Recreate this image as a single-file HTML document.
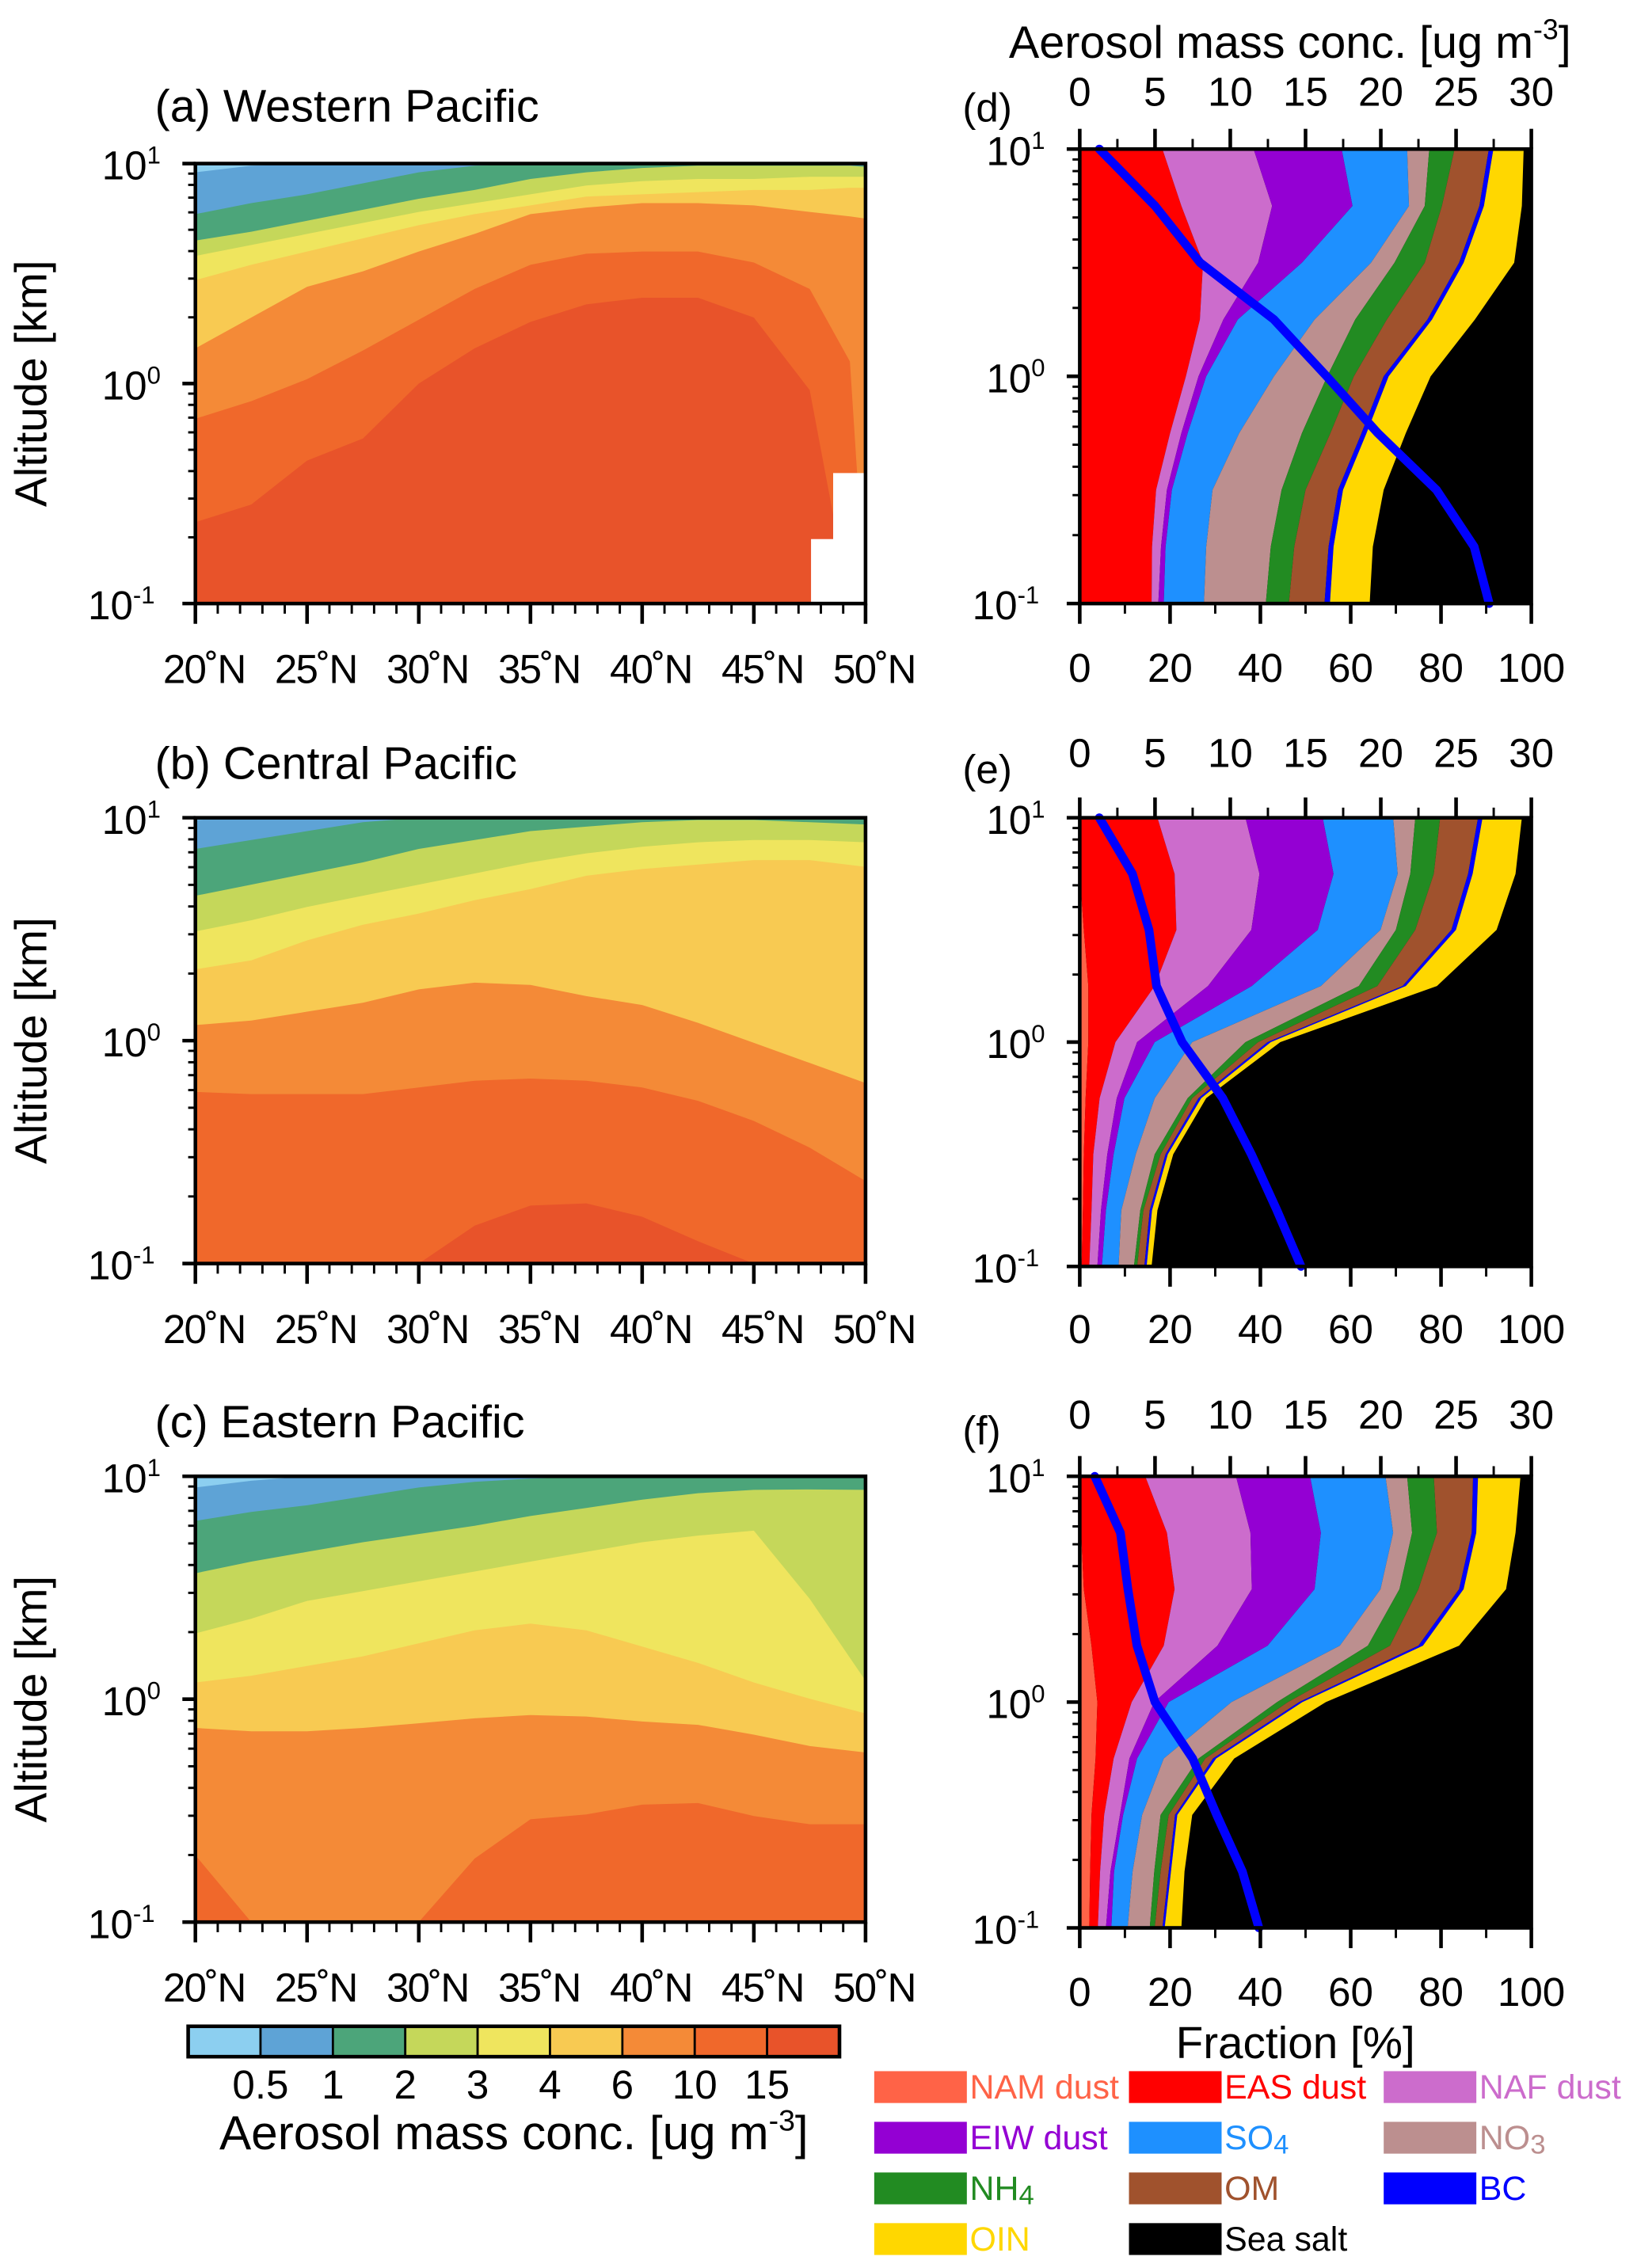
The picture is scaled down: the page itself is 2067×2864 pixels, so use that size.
<!DOCTYPE html>
<html><head><meta charset="utf-8"><title>Aerosol vertical profiles</title>
<style>
html,body{margin:0;padding:0;background:#fff;}
svg{display:block;}
text{font-family:"Liberation Sans",Arial,sans-serif;fill:#000;}
</style></head>
<body>
<svg id="fig" xmlns="http://www.w3.org/2000/svg" width="2067" height="2864" viewBox="0 0 1131 1567" preserveAspectRatio="none">
<g id="layer"></g>
</svg>
<script>
// ---------- contour data (log10 altitude of level boundaries vs latitude) ----------
const latsA = [20,22.5,25,27.5,30,32.5,35,37.5,40,42.5,45,47.5,49.3,50];
const lats13 = [20,22.5,25,27.5,30,32.5,35,37.5,40,42.5,45,47.5,50];
const levelLabels = ["0.5","1","2","3","4","6","10","15"];
const contourColors = ["#8ccff0","#5ea3d6","#4ca57a","#c5d75a","#efe55e","#f8ca52","#f48a37","#f0682b","#e8532a"];

const aL05 = [0.96,0.99,1,1,1,1,1,1,1,1,1,1,1,1];
const aL1  = [0.77,0.82,0.86,0.91,0.96,0.99,1,1,1,1,1,0.995,0.99,0.99];
const aL2  = [0.65,0.69,0.74,0.79,0.84,0.88,0.93,0.96,0.98,0.99,0.99,0.99,0.99,0.985];
const aL3  = [0.58,0.63,0.68,0.73,0.78,0.82,0.86,0.90,0.92,0.93,0.93,0.94,0.94,0.94];
const aL4  = [0.47,0.54,0.60,0.66,0.72,0.77,0.81,0.85,0.86,0.87,0.88,0.88,0.89,0.89];
const aL6  = [0.16,0.30,0.44,0.51,0.60,0.68,0.77,0.80,0.82,0.82,0.81,0.78,0.76,0.75];
const aL10 = [-0.16,-0.08,0.02,0.15,0.29,0.43,0.54,0.59,0.60,0.60,0.55,0.43,0.10,-1];
const aL15 = [-0.63,-0.55,-0.35,-0.25,0.00,0.16,0.28,0.36,0.39,0.39,0.30,-0.03,-1,-1];

const bL05 = [0.99,1,1,1,1,1,1,1,1,1,1,1,1];
const bL1  = [0.86,0.90,0.94,0.98,1,1,1,1,1,1,1,1,0.995];
const bL2  = [0.65,0.70,0.75,0.80,0.86,0.90,0.94,0.96,0.98,0.99,0.99,0.98,0.97];
const bL3  = [0.49,0.54,0.60,0.65,0.70,0.75,0.80,0.84,0.87,0.89,0.90,0.90,0.89];
const bL4  = [0.32,0.36,0.45,0.52,0.57,0.63,0.68,0.74,0.77,0.79,0.81,0.81,0.78];
const bL6  = [0.07,0.09,0.13,0.17,0.23,0.26,0.25,0.20,0.16,0.08,-0.01,-0.10,-0.19];
const bL10 = [-0.23,-0.24,-0.24,-0.24,-0.21,-0.18,-0.17,-0.18,-0.21,-0.27,-0.36,-0.48,-0.63];
const bL15 = [-1,-1,-1,-1,-1,-0.83,-0.74,-0.73,-0.79,-0.90,-1,-1,-1];

const cL05 = [0.95,0.98,1,1,1,1,1,1,1,1,1,1,1];
const cL1  = [0.80,0.84,0.87,0.91,0.95,0.975,0.99,0.997,1,1,1,1,1];
const cL2  = [0.565,0.617,0.661,0.704,0.741,0.778,0.822,0.858,0.895,0.924,0.939,0.941,0.939];
const cL3  = [0.295,0.361,0.441,0.485,0.529,0.573,0.617,0.661,0.704,0.734,0.756,0.45,0.083];
const cL4  = [0.075,0.105,0.149,0.192,0.251,0.309,0.339,0.309,0.236,0.163,0.075,0.002,-0.064];
const cL6  = [-0.129,-0.144,-0.144,-0.129,-0.108,-0.086,-0.071,-0.078,-0.100,-0.115,-0.159,-0.210,-0.239];
const cL10 = [-0.70,-1,-1,-1,-1,-0.715,-0.539,-0.517,-0.473,-0.466,-0.524,-0.561,-0.561];
const cL15 = [-1,-1,-1,-1,-1,-1,-1,-1,-1,-1,-1,-1,-1];

// ---------- composition data (cumulative fraction %, at log10 altitude levels) ----------
const profLevels = [1,0.75,0.5,0.25,0,-0.25,-0.5,-0.75,-1];
const speciesNames = ["NAM dust","EAS dust","NAF dust","EIW dust","SO4","NO3","NH4","OM","BC","OIN"];
const speciesColors = ["#ff6347","#ff0000","#cc6ccc","#9400d3","#1e90ff","#bc8f8f","#228b22","#a0522d","#0000ff","#ffd700"];

const dNAM = [0,0,0,0,0,0,0,0,0];
const dEAS = [18.3,22.5,27.3,26.6,23.5,20,16.9,16,15.9];
const dNAF = [38.5,42.6,39.5,31.8,26.3,22.5,19.3,18,17.4];
const dEIW = [58,60.4,49.2,35,28,23.9,20.4,19,18.6];
const dSO4 = [72.5,72.9,64.5,52,43,35.3,29.4,28,27.5];
const dNO3 = [77.4,76.4,69.7,61,54.8,49.2,44.7,42.3,41.2];
const dNH4 = [83,80.2,76.4,68,60.7,55.5,50,47.5,46.3];
const dOM  = [90.6,88.5,84,77,67.3,62.4,57.2,55.1,54.2];
const dBC  = [91.6,89.5,85,78,68.4,63.5,58.3,56.2,55.4];
const dOIN = [98.3,97.9,96.2,87.5,77.7,72.2,67.3,64.9,64.2];
const dConc = [1.3,5.0,8.0,12.9,16.4,19.8,23.7,26.2,27.2];

const eNAM = [0,0,0.9,1.9,1.9,1.3,0.9,0.7,0.4];
const eEAS = [17.2,21,21.4,16.6,7.9,4.4,3,2.6,2.1];
const eNAF = [36.7,39.8,38,28.4,12.7,8.2,6.1,4.7,3.9];
const eEIW = [53.8,56.2,52.7,38.1,16.6,9.9,7.5,5.8,4.9];
const eSO4 = [69.4,70.4,66.6,53.4,24.9,16.6,12.4,9.2,8.6];
const eNO3 = [74.3,73.2,70,61.8,36.7,23.9,16.6,13.4,12];
const eNH4 = [79.8,78.4,74.3,65.9,39.5,24.9,17.9,14.1,12.7];
const eOM  = [88.2,86,82.3,71.5,41.6,26.3,19,15.5,14.3];
const eBC  = [89.2,87,83.3,72.2,42.3,26.9,19.5,16,14.8];
const eOIN = [97.9,96.5,92.3,79.1,44.4,28,20.7,17.2,15.9];
const eConc = [1.3,3.5,4.6,5.1,6.8,9.5,11.4,13.1,14.7];

const fNAM = [0,0.3,0.9,2.6,3.9,3.5,2.6,2.3,2.1];
const fEAS = [14.5,19.3,21,18.6,11.5,7.5,5.4,4.5,4];
const fNAF = [34.6,37.8,38.1,30.5,16.5,11,8.9,6.8,5.8];
const fEIW = [51,53.4,52,41.6,19.7,12.7,9.6,7.6,7];
const fSO4 = [67.7,69.4,66.6,57.6,33.6,18.6,13.8,11.7,10.6];
const fNO3 = [72.5,73.6,70.8,63.8,43.7,26.3,17.9,16.5,15.5];
const fNH4 = [78.4,79.1,75,68.7,46.1,27.8,19.7,17.9,16.6];
const fOM  = [87.1,86.8,84,75,48.6,29.5,21.1,19.7,18.3];
const fBC  = [88.2,87.8,85,76,49.3,30.2,21.6,20.2,18.8];
const fOIN = [97.6,96.5,94.4,84,54.5,34.2,24.9,23.2,22.5];
const fConc = [1.0,2.7,3.2,3.8,5.0,7.5,9.1,10.8,11.9];

const fracTicks = [0,20,40,60,80,100];
const concTicks = [0,5,10,15,20,25,30];
const latTicks = [20,25,30,35,40,45,50];

// ---------- drawing ----------
const NS = "http://www.w3.org/2000/svg";
const layer = document.getElementById("layer");
function mk(tag, attrs, parent) {
  const el = document.createElementNS(NS, tag);
  for (const k in attrs) el.setAttribute(k, attrs[k]);
  (parent || layer).appendChild(el);
  return el;
}
function txt(str, x, y, size, anchor, parent) {
  const t = mk("text", {x:x, y:y, "font-size":size, "text-anchor":anchor||"start"}, parent);
  t.textContent = str;
  return t;
}
function pow10(x, y, exp, parent) {
  const t = mk("text", {x:x, y:y, "font-size":28, "text-anchor":"end"}, parent);
  
  
  const s1 = document.createElementNS(NS, "tspan"); s1.textContent = "10"; t.appendChild(s1);
  const s2 = document.createElementNS(NS, "tspan"); s2.setAttribute("dy", -11); s2.setAttribute("font-size", 17); s2.textContent = exp; t.appendChild(s2);
}

function logAxis(g, box) {
  const yOf = v => box.y + (1 - v) / 2 * box.h;
  [1,0,-1].forEach(d => {
    mk("line", {x1:box.x-9, x2:box.x, y1:yOf(d), y2:yOf(d), stroke:"#000","stroke-width":2.5}, g);
  });
  [-1,0].forEach(d => {
    for (let m = 2; m <= 9; m++) {
      const v = d + Math.log10(m);
      mk("line", {x1:box.x-5, x2:box.x, y1:yOf(v), y2:yOf(v), stroke:"#000","stroke-width":1.6}, g);
    }
  });
  pow10(box.x - 24, yOf(1) + 11, "1", g);
  pow10(box.x - 24, yOf(0) + 11, "0", g);
  pow10(box.x - 28, yOf(-1) + 11, "-1", g);
}

function contourPanel(name, box, lats, bounds) {
  const g = mk("g", {});
  
  
  const xOf = lat => box.x + (lat - 20) / 30 * box.w;
  const yOf = v => box.y + (1 - v) / 2 * box.h;
  const bg = mk("rect", {x:box.x, y:box.y, width:box.w, height:box.h, fill:contourColors[0]}, g);
  
  
  bounds.forEach((arr, k) => {
    let pts = arr.map((v, i) => xOf(lats[i]).toFixed(2) + "," + yOf(v).toFixed(2));
    pts.push(xOf(50) + "," + yOf(-1));
    pts.push(xOf(20) + "," + yOf(-1));
    const p = mk("polygon", {points:pts.join(" "), fill:contourColors[k+1]}, g);
    
    
  });
  return {g, xOf, yOf};
}

function frameLeft(g, box, xOf) {
  mk("rect", {x:box.x, y:box.y, width:box.w, height:box.h, fill:"none", stroke:"#000","stroke-width":2.5}, g);
  logAxis(g, box);
  for (let lat = 20; lat <= 50; lat++) {
    const major = lat % 5 === 0;
    mk("line", {x1:xOf(lat), x2:xOf(lat), y1:box.y+box.h, y2:box.y+box.h+(major?14:7), stroke:"#000","stroke-width":major?2.5:1.6}, g);
  }
  latTicks.forEach(lat => {
    const t = mk("text", {x:xOf(lat)+6, y:box.y+box.h+55, "font-size":28, "text-anchor":"middle", "letter-spacing":-1}, g);
    
    
    t.textContent = lat + "\u02DAN";
  });
  const yl = mk("text", {x:0, y:0, "font-size":31, "text-anchor":"middle", transform:"translate(32," + (box.y+box.h/2) + ") rotate(-90)"}, g);
  
  
  yl.textContent = "Altitude [km]";
}

const boxA = {x:135, y:113, w:463, h:304};
const boxB = {x:135, y:565, w:463, h:308};
const boxC = {x:135, y:1020, w:463, h:308};

const pa = contourPanel("panel-a-western-pacific", boxA, latsA, [aL05,aL1,aL2,aL3,aL4,aL6,aL10,aL15]);
const miss = mk("polygon", {points:[
  [pa.xOf(48.55),pa.yOf(-0.407)],[pa.xOf(50),pa.yOf(-0.407)],[pa.xOf(50),pa.yOf(-1)],
  [pa.xOf(47.56),pa.yOf(-1)],[pa.xOf(47.56),pa.yOf(-0.707)],[pa.xOf(48.55),pa.yOf(-0.707)]
].map(p=>p.join(",")).join(" "), fill:"#fff"}, pa.g);


frameLeft(pa.g, boxA, pa.xOf);

const pb = contourPanel("panel-b-central-pacific", boxB, lats13, [bL05,bL1,bL2,bL3,bL4,bL6,bL10,bL15]);
frameLeft(pb.g, boxB, pb.xOf);
const pc = contourPanel("panel-c-eastern-pacific", boxC, lats13, [cL05,cL1,cL2,cL3,cL4,cL6,cL10,cL15]);
frameLeft(pc.g, boxC, pc.xOf);

[["(a) Western Pacific",84,"panel-a-title"],["(b) Central Pacific",538,"panel-b-title"],["(c) Eastern Pacific",993,"panel-c-title"]].forEach(a => {
  const t = txt(a[0], 107, a[1], 31.5, "start");
  
  
});

// ---------- composition panels ----------
function profPanel(name, box, cum, conc, label, topY, botY) {
  const g = mk("g", {});
  
  
  const xOf = f => box.x + f / 100 * box.w;
  const xc = c => box.x + c / 30 * box.w;
  const yOf = v => box.y + (1 - v) / 2 * box.h;
  const ss = mk("rect", {x:box.x, y:box.y, width:box.w, height:box.h, fill:"#000"}, g);
  
  
  let prev = profLevels.map(() => 0);
  cum.forEach((arr, k) => {
    const right = arr.map((f, i) => xOf(f).toFixed(2) + "," + yOf(profLevels[i]).toFixed(2));
    const left = prev.map((f, i) => xOf(f).toFixed(2) + "," + yOf(profLevels[i]).toFixed(2)).reverse();
    const p = mk("polygon", {points:right.concat(left).join(" "), fill:speciesColors[k]}, g);
    
    
    prev = arr;
  });
  const line = mk("polyline", {points:conc.map((c,i)=>xc(c).toFixed(2)+","+yOf(profLevels[i]).toFixed(2)).join(" "),
    fill:"none", stroke:"#0000ff", "stroke-width":6, "stroke-linejoin":"round", "stroke-linecap":"round"}, g);
  
  
  mk("rect", {x:box.x, y:box.y, width:box.w, height:box.h, fill:"none", stroke:"#000","stroke-width":2.5}, g);
  logAxis(g, box);
  for (let f = 0; f <= 100; f += 10) {
    const major = f % 20 === 0;
    mk("line", {x1:xOf(f), x2:xOf(f), y1:box.y+box.h, y2:box.y+box.h+(major?14:7), stroke:"#000","stroke-width":major?2.5:1.6}, g);
  }
  for (let c = 0; c <= 30; c += 2.5) {
    const major = c % 5 === 0;
    mk("line", {x1:xc(c), x2:xc(c), y1:box.y, y2:box.y-(major?14:7), stroke:"#000","stroke-width":major?2.5:1.6}, g);
  }
  fracTicks.forEach(f => {
    const t = txt(String(f), xOf(f), botY, 28, "middle", g);
    
    
  });
  concTicks.forEach(c => {
    const t = txt(String(c), xc(c), topY, 28, "middle", g);
    
    
  });
  const l = txt(label, 665, topY + 11, 28, "start", g);
  
  
}
const boxD = {x:746, y:103, w:312, h:314};
const boxE = {x:746, y:565, w:312, h:310};
const boxF = {x:746, y:1020, w:312, h:312};
profPanel("panel-d-composition", boxD, [dNAM,dEAS,dNAF,dEIW,dSO4,dNO3,dNH4,dOM,dBC,dOIN], dConc, "(d)", 73, 471);
profPanel("panel-e-composition", boxE, [eNAM,eEAS,eNAF,eEIW,eSO4,eNO3,eNH4,eOM,eBC,eOIN], eConc, "(e)", 530, 928);
profPanel("panel-f-composition", boxF, [fNAM,fEAS,fNAF,fEIW,fSO4,fNO3,fNH4,fOM,fBC,fOIN], fConc, "(f)", 987, 1386);

function unitTitle(x, y, size, anchor, name) {
  const t = mk("text", {x:x, y:y, "font-size":size, "text-anchor":anchor});
  
  
  t.appendChild(document.createTextNode("Aerosol mass conc. [ug m"));
  const s = document.createElementNS(NS,"tspan"); s.setAttribute("dy",-13); s.setAttribute("font-size",size*0.62); s.textContent="-3"; t.appendChild(s);
  const s2 = document.createElementNS(NS,"tspan"); s2.setAttribute("dy",13); s2.textContent="]"; t.appendChild(s2);
  return t;
}
unitTitle(697, 40, 31.5, "start", "top-axis-title");
(function(){
  const f = txt("Fraction [%]", 895, 1422, 31, "middle");
  
  
})();

// ---------- colorbar ----------
(function(){
  const g = mk("g", {});
  
  
  const x0 = 130, y0 = 1400, cw = 50, ch = 21;
  contourColors.forEach((c, i) => {
    const r = mk("rect", {x:x0+i*cw, y:y0, width:cw, height:ch, fill:c, stroke:"#000", "stroke-width":1.5}, g);
    
    
  });
  mk("rect", {x:x0, y:y0, width:cw*9, height:ch, fill:"none", stroke:"#000", "stroke-width":2.5}, g);
  levelLabels.forEach((l, i) => {
    const t = txt(l, x0+(i+1)*cw, 1450, 28, "middle", g);
    
    
  });
  const t = unitTitle(355, 1485, 33, "middle", "colorbar-title");
  g.appendChild(t);
})();

// ---------- legend ----------
(function(){
  const g = mk("g", {});
  
  
  const names = speciesNames.concat(["Sea salt"]);
  const cols = speciesColors.concat(["#000000"]);
  const colX = [604, 780, 956], rowY = [1431, 1466, 1501, 1536];
  names.forEach((n, i) => {
    const cx = colX[i % 3], ry = rowY[Math.floor(i / 3)];
    const r = mk("rect", {x:cx, y:ry, width:64, height:22, fill:cols[i]}, g);
    
    
    const t = mk("text", {x:cx+66, y:ry+19, "font-size":23.5}, g);
    
    
    t.style.fill = n === "Sea salt" ? "#000" : cols[i];
    const m = n.match(/^(SO|NO|NH)(\d)$/);
    if (m) {
      t.appendChild(document.createTextNode(m[1]));
      const s = document.createElementNS(NS,"tspan"); s.setAttribute("font-size",19); s.setAttribute("dy",3); s.textContent=m[2]; t.appendChild(s);
    } else t.textContent = n;
  });
})();
</script>
</body></html>
